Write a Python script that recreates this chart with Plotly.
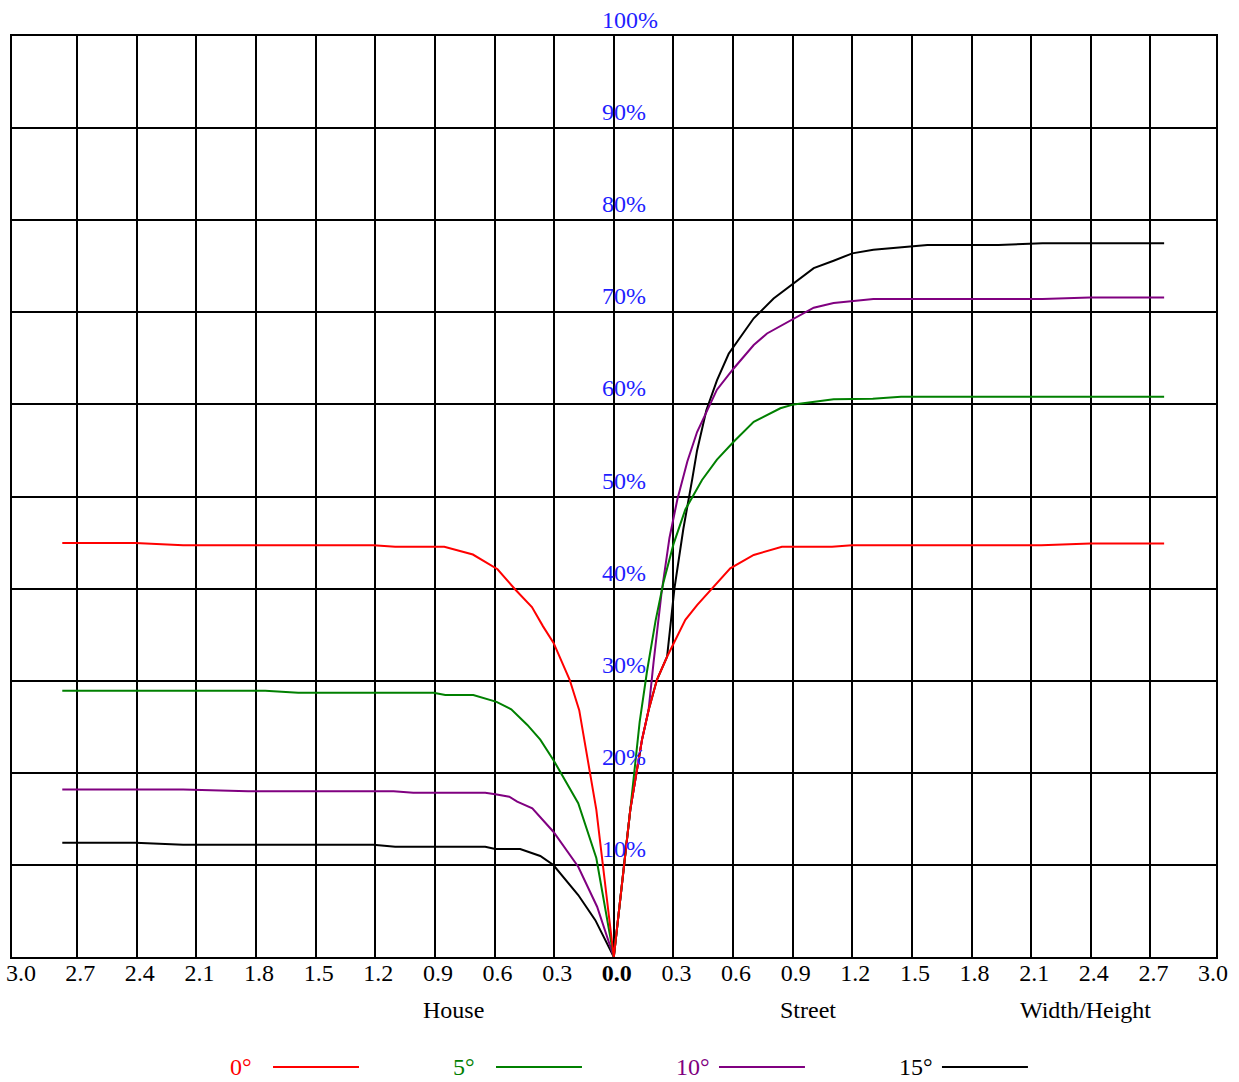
import plotly.graph_objects as go

# ---- data (Width/Height ratio; negative = House side, positive = Street side) ----
red_x = [-2.775, -2.408, -2.167, -1.21, -1.10, -0.853, -0.709, -0.585, -0.496, -0.412,
         -0.356, -0.303, -0.222, -0.174, -0.088, 0.0,
         0.083, 0.142, 0.175, 0.217, 0.268, 0.36, 0.419, 0.486, 0.586, 0.704, 0.846,
         1.098, 1.198, 2.151, 2.398, 2.769]
red_y = [44.95, 44.95, 44.7, 44.7, 44.55, 44.55, 43.7, 42.1, 39.9, 38.0,
         35.9, 34.1, 30.1, 26.8, 16.0, 0.0,
         16.0, 23.6, 26.8, 30.1, 32.6, 36.6, 38.2, 39.8, 42.2, 43.65, 44.55,
         44.55, 44.7, 44.7, 44.9, 44.9]

green_x = [-2.775, -1.754, -1.588, -0.907, -0.848, -0.707, -0.59, -0.516, -0.435, -0.37,
           -0.304, -0.179, -0.088, 0.0,
           0.083, 0.13, 0.167, 0.21, 0.25, 0.30, 0.36, 0.444, 0.519, 0.603, 0.704, 0.838,
           0.905, 1.006, 1.106, 1.303, 1.445, 2.769]
green_y = [28.9, 28.9, 28.7, 28.7, 28.45, 28.45, 27.7, 26.9, 25.2, 23.6,
           21.4, 16.7, 10.75, 0.0,
           16.0, 25.5, 31.0, 36.5, 40.7, 44.8, 48.6, 51.8, 54.0, 55.95, 58.1, 59.58,
           60.0, 60.3, 60.57, 60.6, 60.84, 60.84]

purple_x = [-2.775, -2.167, -1.84, -1.108, -1.009, -0.647, -0.596, -0.526, -0.486, -0.41,
            -0.304, -0.179, -0.084, 0.0,
            0.083, 0.142, 0.175, 0.20, 0.24, 0.28, 0.32, 0.37, 0.419, 0.519, 0.603, 0.704,
            0.771, 0.905, 1.006, 1.106, 1.306, 2.157, 2.395, 2.769]
purple_y = [18.2, 18.2, 18.0, 18.0, 17.84, 17.84, 17.67, 17.4, 16.86, 16.15,
            13.6, 9.8, 5.46, 0.0,
            16.0, 23.6, 26.8, 32.0, 39.5, 45.5, 49.7, 53.8, 57.0, 61.6, 63.9, 66.45,
            67.7, 69.3, 70.5, 71.0, 71.45, 71.45, 71.6, 71.6]

black_x = [-2.775, -2.408, -2.167, -1.21, -1.10, -0.647, -0.596, -0.471, -0.37, -0.304,
           -0.179, -0.093, 0.0,
           0.083, 0.142, 0.175, 0.217, 0.268, 0.305, 0.35, 0.394, 0.419, 0.466, 0.519,
           0.578, 0.704, 0.804, 0.905, 1.006, 1.106, 1.20, 1.306, 1.578, 1.936, 2.157, 2.769]
black_y = [12.4, 12.4, 12.2, 12.2, 11.98, 11.98, 11.73, 11.73, 10.97, 9.99,
           6.73, 4.0, 0.0,
           16.0, 23.6, 26.8, 30.1, 32.6, 40.0, 46.5, 51.8, 55.0, 59.4, 62.6,
           65.5, 69.35, 71.5, 73.1, 74.8, 75.6, 76.4, 76.8, 77.3, 77.3, 77.5, 77.5]

series_names = ["0°", "5°", "10°", "15°"]
series_colors = ["#ff0000", "#008000", "#800080", "#000000"]
series_x = [red_x, green_x, purple_x, black_x]
series_y = [red_y, green_y, purple_y, black_y]

x_tick_vals = [-2.7, -2.4, -2.1, -1.8, -1.5, -1.2, -0.9, -0.6, -0.3, 0.0,
               0.3, 0.6, 0.9, 1.2, 1.5, 1.8, 2.1, 2.4, 2.7]
x_edge_vals = [-3.0, 3.0]
y_tick_vals = [0, 10, 20, 30, 40, 50, 60, 70, 80, 90, 100]
y_label_vals = [10, 20, 30, 40, 50, 60, 70, 80, 90, 100]

axis_titles = [("House", 0.3663), ("Street", 0.6611), ("Width/Height", 0.8912)]

FONT = "Liberation Serif, Times New Roman, serif"
FS = 24
X_RANGE = [-3.028, 3.030]

fig = go.Figure()

# draw in reverse so the 0° curve sits on top
for name, color, xs, ys in reversed(list(zip(series_names, series_colors, series_x, series_y))):
    fig.add_trace(go.Scatter(x=xs, y=ys, mode="lines", name=name,
                             line=dict(color=color, width=2), showlegend=False,
                             hoverinfo="skip"))


def fmt_tick(v):
    t = f"{abs(v):.1f}"
    return f"<b>{t}</b>" if v == 0 else t


tickfont = dict(family=FONT, size=FS, color="black")

fig.update_layout(
    width=1239, height=1082,
    margin=dict(l=12, r=23, t=36, b=125, autoexpand=False),
    paper_bgcolor="white", plot_bgcolor="white",
    font=dict(family=FONT, size=FS, color="black"),
    xaxis=dict(range=X_RANGE, tickvals=x_tick_vals,
               ticktext=[fmt_tick(v) for v in x_tick_vals],
               showgrid=True, gridcolor="black", gridwidth=2, automargin=False,
               zeroline=False, showline=True, linecolor="black", linewidth=2,
               mirror=True, ticks="", ticklabelstandoff=-7, ticklabelshift=3,
               tickfont=tickfont),
    yaxis=dict(range=[0, 100], tickvals=y_tick_vals, showticklabels=False,
               showgrid=True, gridcolor="black", gridwidth=2, zeroline=False,
               automargin=False,
               showline=True, linecolor="black", linewidth=2, mirror=True, ticks=""),
)

# outer tick labels at +/-3.0 (no gridline there in the original)
for v in x_edge_vals:
    fig.add_annotation(x=v, y=0, xref="x", yref="y", text=fmt_tick(v), showarrow=False,
                       xanchor="center", yanchor="middle", yshift=-16, xshift=3,
                       font=tickfont)

# blue percentage labels along the x = 0 line
for v in y_label_vals:
    fig.add_annotation(x=0, y=v, xref="x", yref="y", text=f"{v}%", showarrow=False,
                       xanchor="left", yanchor="bottom", xshift=-14, yshift=1,
                       font=dict(family=FONT, size=FS, color="#1f1fff"))

# axis captions
for text, xp in axis_titles:
    fig.add_annotation(x=xp, y=-0.0575, xref="paper", yref="paper", text=text,
                       showarrow=False, xanchor="center", yanchor="middle",
                       font=dict(family=FONT, size=FS, color="black"))

# legend: label then line sample
leg_start = 0.2168
leg_step = 0.1852
leg_len = 0.0714
leg_y = -0.1194
for i, (name, color) in enumerate(zip(series_names, series_colors)):
    x0 = leg_start + i * leg_step
    fig.add_annotation(x=x0 - 0.0370, y=leg_y, xref="paper", yref="paper", text=name,
                       showarrow=False, xanchor="left", yanchor="middle",
                       font=dict(family=FONT, size=FS, color=color))
    fig.add_shape(type="line", xref="paper", yref="paper", x0=x0, x1=x0 + leg_len,
                  y0=leg_y, y1=leg_y, line=dict(color=color, width=2))

fig.write_html("out.html", config={"displayModeBar": False},
               post_script="document.body.style.margin='0';")
